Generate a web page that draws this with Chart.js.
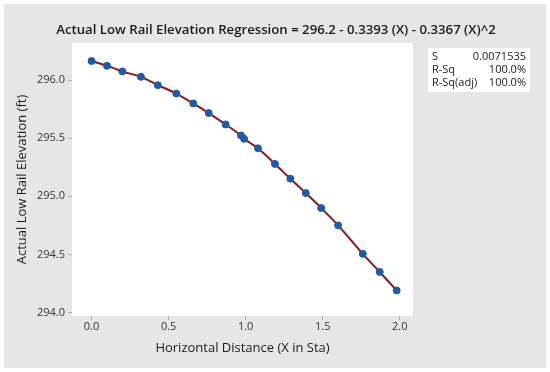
<!DOCTYPE html>
<html>
<head>
<meta charset="utf-8">
<script src="https://cdn.jsdelivr.net/npm/chart.js@4.4.0/dist/chart.umd.min.js"></script>
<style>
  html, body { margin: 0; padding: 0; background: #fff; }
  #wrap { width: 550px; height: 372px; }
</style>
</head>
<body>
<div id="wrap"><canvas id="fitChart" width="550" height="372"></canvas></div>
<script>
// Datos
const distance = [0.0, 0.10, 0.20, 0.32, 0.43, 0.55, 0.66, 0.76, 0.87, 0.97, 0.99, 1.08, 1.19, 1.29, 1.39, 1.49, 1.60, 1.76, 1.87, 1.98];
const elevation = [296.165, 296.124, 296.075, 296.029, 295.957, 295.885, 295.800, 295.717, 295.619, 295.524, 295.495, 295.414, 295.279, 295.152, 295.028, 294.900, 294.750, 294.505, 294.349, 294.190];
const xTicks = [0.0, 0.5, 1.0, 1.5, 2.0];
const yTicks = [294.0, 294.5, 295.0, 295.5, 296.0];
const statLabels = ['S', 'R-Sq', 'R-Sq(adj)'];
const statValues = ['0.0071535', '100.0%', '100.0%'];
const titleText = 'Actual Low Rail Elevation Regression = 296.2 - 0.3393 (X) - 0.3367 (X)^2';

const FONT = "'Open Sans', 'Noto Sans', sans-serif";
const points = distance.map((x, i) => ({ x: x, y: elevation[i] }));

// Fondo gris, área blanca, título y cuadro de estadísticos
const decor = {
    id: 'decor',
    beforeDraw(chart) {
        const { ctx, chartArea: a } = chart;
        ctx.save();
        ctx.fillStyle = '#ffffff';
        ctx.fillRect(0, 0, chart.width, chart.height);
        ctx.fillStyle = '#e6e6e6';
        ctx.fillRect(4, 4, chart.width - 8, chart.height - 8);
        ctx.fillStyle = '#ffffff';
        ctx.fillRect(a.left, a.top, a.right - a.left, a.bottom - a.top);
        ctx.fillRect(428, 48, 102, 44);
        ctx.restore();
    },
    afterDraw(chart) {
        const ctx = chart.ctx;
        ctx.save();
        ctx.fillStyle = '#1a1a1a';
        ctx.font = '600 13.2px ' + FONT;
        ctx.textAlign = 'center';
        ctx.textBaseline = 'middle';
        ctx.fillText(titleText, 276, 30);

        ctx.fillStyle = '#222222';
        ctx.font = '11px ' + FONT;
        statLabels.forEach((lab, i) => {
            const y = 57 + i * 13;
            ctx.textAlign = 'left';
            ctx.fillText(lab, 432, y);
            ctx.textAlign = 'right';
            ctx.fillText(statValues[i], 526, y);
        });
        ctx.restore();
    }
};

new Chart(document.getElementById('fitChart'), {
    type: 'scatter',
    data: {
        datasets: [{
            type: 'line',
            data: points,
            borderColor: '#8b1a1a',
            borderWidth: 2,
            tension: 0.3,
            pointRadius: 0,
            fill: false,
            order: 2
        }, {
            data: points,
            backgroundColor: '#1f5ca8',
            borderColor: '#1f5ca8',
            pointRadius: 3.5,
            order: 1
        }]
    },
    options: {
        responsive: false,
        animation: false,
        layout: { padding: { left: 0, right: 137, top: 43, bottom: 0 } },
        plugins: { legend: { display: false }, tooltip: { enabled: false } },
        scales: {
            x: {
                type: 'linear',
                min: -0.127,
                max: 2.086,
                afterBuildTicks: s => { s.ticks = xTicks.map(v => ({ value: v })); },
                afterFit: s => { s.height = 56; },
                grid: { drawOnChartArea: false, tickLength: 4, color: '#b0b0b0' },
                border: { display: false },
                ticks: {
                    padding: 0,
                    color: '#333333',
                    font: { family: FONT, size: 11 },
                    callback: v => v.toFixed(1)
                },
                title: {
                    display: true,
                    text: 'Horizontal Distance (X in Sta)',
                    color: '#1a1a1a',
                    font: { family: FONT, size: 13 },
                    padding: { top: 0, bottom: 16 }
                }
            },
            y: {
                type: 'linear',
                min: 293.97,
                max: 296.32,
                afterBuildTicks: s => { s.ticks = yTicks.map(v => ({ value: v })); },
                afterFit: s => { s.width = 72; },
                grid: { drawOnChartArea: false, tickLength: 4, color: '#b0b0b0' },
                border: { display: false },
                ticks: {
                    padding: 3,
                    color: '#333333',
                    font: { family: FONT, size: 11 },
                    callback: v => v.toFixed(1)
                },
                title: {
                    display: true,
                    text: 'Actual Low Rail Elevation (ft)',
                    color: '#1a1a1a',
                    font: { family: FONT, size: 13 },
                    padding: { top: 14, bottom: 0 }
                }
            }
        }
    },
    plugins: [decor]
});
</script>
</body>
</html>
